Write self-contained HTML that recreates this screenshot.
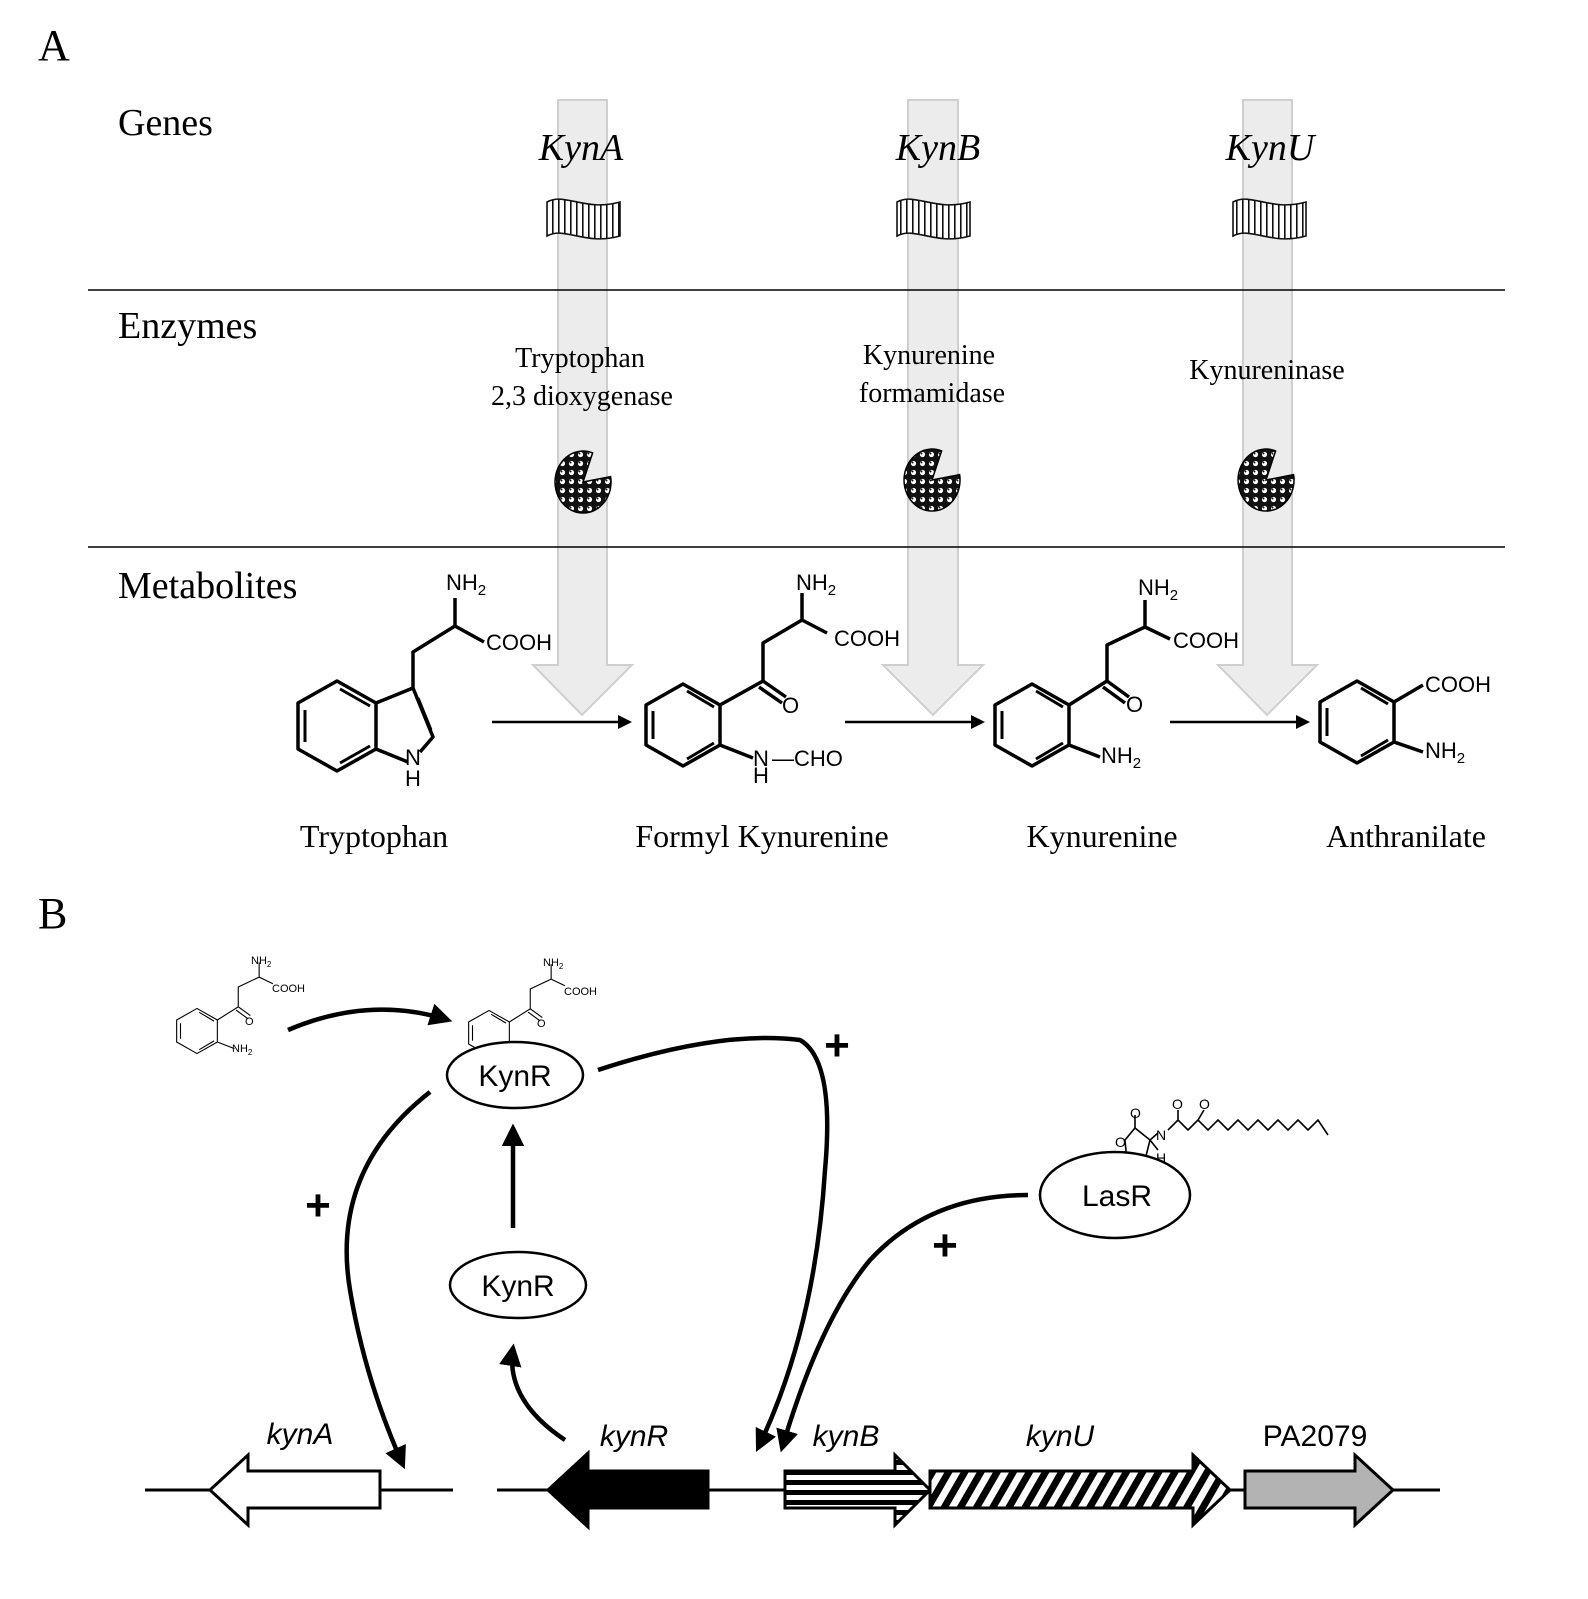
<!DOCTYPE html>
<html><head><meta charset="utf-8"><style>
html,body{margin:0;padding:0;background:#fff}
svg{display:block}
.s{font-family:"Liberation Serif",serif}
.a{font-family:"Liberation Sans",sans-serif}
</style></head><body>
<svg width="1588" height="1599" viewBox="0 0 1588 1599" xmlns="http://www.w3.org/2000/svg">
<defs>
<pattern id="dots" width="9" height="9" patternUnits="userSpaceOnUse">
<rect width="9" height="9" fill="#111"/><circle cx="4.5" cy="4.5" r="2.6" fill="#fff"/><circle cx="3.5" cy="3.5" r="1" fill="#111"/>
</pattern>
<pattern id="vstr" width="6" height="10" patternUnits="userSpaceOnUse"><rect width="6" height="10" fill="#fff"/><rect x="0" width="1.6" height="10" fill="#111"/></pattern>
<pattern id="hstr" width="10" height="10" patternUnits="userSpaceOnUse"><rect width="10" height="10" fill="#fff"/><rect y="0" width="10" height="5" fill="#000"/></pattern>
<pattern id="diag" width="14" height="14" patternUnits="userSpaceOnUse" patternTransform="rotate(30)"><rect width="14" height="14" fill="#fff"/><rect width="7" height="14" fill="#000"/></pattern>
<marker id="ah" markerWidth="5" markerHeight="5" refX="4" refY="2.5" orient="auto" markerUnits="strokeWidth"><path d="M0,0 L5,2.5 L0,5 Z" fill="#000"/></marker>
</defs>

<text x="38" y="60" class="s" font-size="44">A</text>
<text x="38" y="928" class="s" font-size="44">B</text>

<g fill="#ececec" stroke="#cfcfcf" stroke-width="2">
<path d="M558,100 H607 V665 H632 L582,715 L533,665 H558 Z"/>
<path d="M908,100 H958 V665 H983 L933,715 L883,665 H908 Z"/>
<path d="M1243,100 H1292 V665 H1317 L1267,715 L1218,665 H1243 Z"/>
</g>

<line x1="88" y1="290" x2="1505" y2="290" stroke="#000" stroke-width="1.5"/>
<line x1="88" y1="547" x2="1505" y2="547" stroke="#000" stroke-width="1.5"/>

<g class="s" font-size="38">
<text x="118" y="135">Genes</text>
<text x="118" y="338">Enzymes</text>
<text x="118" y="598">Metabolites</text>
</g>
<g class="s" font-size="38" font-style="italic" text-anchor="middle">
<text x="581" y="160">KynA</text>
<text x="938" y="160">KynB</text>
<text x="1270" y="160">KynU</text>
</g>

<g stroke="#111" stroke-width="1.6" fill="url(#vstr)">
<path d="M547,202 C565,192 585,212 620,202 V236 C585,246 565,226 547,236 Z"/>
<path d="M897,202 C915,192 935,212 970,202 V236 C935,246 915,226 897,236 Z"/>
<path d="M1233,202 C1251,192 1271,212 1306,202 V236 C1271,246 1251,226 1233,236 Z"/>
</g>

<g class="s" font-size="28" text-anchor="middle">
<text x="580" y="367">Tryptophan</text>
<text x="582" y="405">2,3 dioxygenase</text>
<text x="929" y="364">Kynurenine</text>
<text x="932" y="402">formamidase</text>
<text x="1267" y="379">Kynureninase</text>
</g>

<g fill="url(#dots)" stroke="#000" stroke-width="1.5">
<path d="M583,482 L592.6,452.9 A28,31 0 1 0 610.6,476.6 Z"/>
<path d="M932,480 L941.6,450.9 A28,31 0 1 0 959.6,474.6 Z"/>
<path d="M1266,480 L1275.6,450.9 A28,31 0 1 0 1293.6,474.6 Z"/>
</g>

<g stroke="#000" stroke-width="2.5">
<line x1="492" y1="722" x2="624" y2="722"/>
<line x1="845" y1="722" x2="977" y2="722"/>
<line x1="1170" y1="722" x2="1302" y2="722"/>
</g>
<g fill="#000">
<path d="M632,722 L618,715 L618,729 Z"/><path d="M985,722 L971,715 L971,729 Z"/><path d="M1310,722 L1296,715 L1296,729 Z"/>
</g>

<g stroke="#000" stroke-width="3.5" fill="none" stroke-linejoin="round">
<path d="M337,681 L376,703 L376,749 L337,771 L298,749 L298,703 Z"/>
<path d="M305,710 L305,742 M340,689 L370,706 M340,763 L370,746" stroke-width="3"/>
<path d="M376,703 L413,688 L433,737 L420,752 M408,762 L376,749"/>
<path d="M418,698 L431,730" stroke-width="3"/>
<path d="M413,688 L413,652 L455,626 L484,642 M455,626 L455,598"/>
</g>
<g class="a" font-size="22">
<text x="446" y="590">NH<tspan font-size="15" dy="5">2</tspan></text>
<text x="486" y="650">COOH</text>
<text x="405" y="765">N</text><text x="405" y="786">H</text>
</g>

<g stroke="#000" stroke-width="3.5" fill="none" stroke-linejoin="round">
<g transform="translate(683,725)">
<path d="M0,-41 L37,-20 L37,20 L0,41 L-37,20 L-37,-20 Z"/>
<path d="M-30,-14 L-30,14 M4,-34 L31,-18 M4,34 L31,18" stroke-width="3"/>
<path d="M37,-20 L80,-44 L103,-28 M76,-38 L99,-22 M80,-44 L80,-82 L119,-105 L144,-92 M119,-105 L119,-132 M37,20 L70,33"/>
</g>
<g transform="translate(1032,725)">
<path d="M0,-41 L37,-20 L37,20 L0,41 L-37,20 L-37,-20 Z"/>
<path d="M-30,-14 L-30,14 M4,-34 L31,-18 M4,34 L31,18" stroke-width="3"/>
<path d="M37,-20 L75,-44 L97,-28 M71,-38 L93,-22 M75,-44 L75,-80 L113,-98 L138,-86 M113,-98 L113,-125 M37,20 L68,32"/>
</g>
<g transform="translate(1357,722)">
<path d="M0,-41 L37,-20 L37,20 L0,41 L-37,20 L-37,-20 Z"/>
<path d="M-30,-14 L-30,14 M4,-34 L31,-18 M4,34 L31,18" stroke-width="3"/>
<path d="M37,-20 L66,-37 M37,20 L66,30"/>
</g>
</g>
<g class="a" font-size="22">
<text x="796" y="590">NH<tspan font-size="15" dy="5">2</tspan></text>
<text x="834" y="646">COOH</text>
<text x="782" y="713">O</text>
<text x="753" y="766">N</text><text x="753" y="783">H</text>
<text x="772" y="766">—CHO</text>
<text x="1138" y="595">NH<tspan font-size="15" dy="5">2</tspan></text>
<text x="1173" y="648">COOH</text>
<text x="1126" y="712">O</text>
<text x="1101" y="763">NH<tspan font-size="15" dy="5">2</tspan></text>
<text x="1425" y="692">COOH</text>
<text x="1425" y="758">NH<tspan font-size="15" dy="5">2</tspan></text>
</g>

<g class="s" font-size="32" text-anchor="middle">
<text x="374" y="847">Tryptophan</text>
<text x="762" y="847">Formyl Kynurenine</text>
<text x="1102" y="847">Kynurenine</text>
<text x="1406" y="847">Anthranilate</text>
</g>

<g stroke="#000" stroke-width="2" fill="none">
<g transform="translate(197,1031) scale(0.55)">
<path d="M0,-41 L37,-20 L37,20 L0,41 L-37,20 L-37,-20 Z"/>
<path d="M-30,-14 L-30,14 M4,-34 L31,-18 M4,34 L31,18"/>
<path d="M37,-20 L75,-44 L97,-28 M71,-38 L93,-22 M75,-44 L75,-80 L113,-98 L138,-86 M113,-98 L113,-125 M37,20 L68,32"/>
</g>
<g transform="translate(489,1033) scale(0.55)">
<path d="M0,-41 L37,-20 L37,20 L0,41 L-37,20 L-37,-20 Z"/>
<path d="M-30,-14 L-30,14 M4,-34 L31,-18 M4,34 L31,18"/>
<path d="M37,-20 L75,-44 L97,-28 M71,-38 L93,-22 M75,-44 L75,-80 L113,-98 L138,-86 M113,-98 L113,-125 M37,20 L68,32"/>
</g>
</g>
<g class="a" font-size="11">
<text x="251" y="964">NH<tspan font-size="8" dy="3">2</tspan></text>
<text x="272" y="992">COOH</text>
<text x="245" y="1025">O</text>
<text x="232" y="1052">NH<tspan font-size="8" dy="3">2</tspan></text>
<text x="543" y="966">NH<tspan font-size="8" dy="3">2</tspan></text>
<text x="564" y="995">COOH</text>
<text x="537" y="1027">O</text>
<text x="523" y="1054">NH<tspan font-size="8" dy="3">2</tspan></text>
</g>

<g stroke="#000" stroke-width="1.6" fill="none">
<path d="M1125,1140 L1135,1128 L1150,1140 L1145,1160 L1127,1162 Z"/>
<path d="M1135,1128 L1135,1115 M1150,1140 L1158,1133 M1168,1130 L1178,1120 L1188,1130 L1198,1120 L1208,1130 L1218,1120 L1228,1130 L1238,1120 L1248,1130 L1258,1120 L1268,1130 L1278,1120 L1288,1130 L1298,1120 L1308,1130 L1318,1120 L1328,1135 M1178,1120 L1178,1110 M1198,1120 L1204,1110 M1150,1140 L1158,1150"/>
</g>
<g class="a" font-size="14">
<text x="1130" y="1118">O</text><text x="1172" y="1109">O</text><text x="1199" y="1109">O</text>
<text x="1115" y="1147">O</text><text x="1156" y="1140">N</text><text x="1156" y="1163">H</text>
</g>

<g fill="#fff" stroke="#000" stroke-width="2.5">
<ellipse cx="515" cy="1075" rx="68" ry="33"/>
<ellipse cx="518" cy="1285" rx="68" ry="33"/>
<ellipse cx="1115" cy="1195" rx="75" ry="43"/>
</g>
<g class="a" font-size="30" text-anchor="middle">
<text x="515" y="1086">KynR</text>
<text x="518" y="1296">KynR</text>
<text x="1117" y="1206">LasR</text>
</g>

<g stroke="#000" stroke-width="4.5" fill="none" marker-end="url(#ah)">
<path d="M288,1030 Q370,995 448,1020"/>
<path d="M513,1228 L513,1128"/>
<path d="M565,1440 Q505,1400 513,1348"/>
<path d="M430,1092 Q330,1170 350,1290 Q365,1380 403,1465"/>
<path d="M598,1070 Q720,1030 800,1040 Q835,1060 825,1170 Q815,1330 758,1448"/>
<path d="M1028,1195 Q930,1195 870,1260 Q820,1320 782,1448"/>
</g>
<g class="a" font-size="44" font-weight="bold" text-anchor="middle">
<text x="837" y="1060">+</text>
<text x="318" y="1220">+</text>
<text x="945" y="1260">+</text>
</g>

<g stroke="#000" stroke-width="3">
<line x1="145" y1="1490" x2="453" y2="1490"/>
<line x1="497" y1="1490" x2="1440" y2="1490"/>
</g>
<g stroke="#000" stroke-width="3" stroke-linejoin="miter">
<path d="M380,1471 V1508 H248 V1525 L210,1490 L248,1455 V1471 Z" fill="#fff"/>
<path d="M708,1471 V1508 H588 V1527 L548,1490 L588,1453 V1471 Z" fill="#000"/>
<path d="M785,1471 V1508 H895 V1525 L930,1490 L895,1455 V1471 Z" fill="url(#hstr)"/>
<path d="M930,1471 V1508 H1193 V1525 L1230,1490 L1193,1455 V1471 Z" fill="url(#diag)"/>
<path d="M1245,1471 V1508 H1355 V1525 L1393,1490 L1355,1455 V1471 Z" fill="#b3b3b3"/>
</g>
<g class="a" font-size="30" font-style="italic" text-anchor="middle">
<text x="300" y="1444">kynA</text>
<text x="634" y="1446">kynR</text>
<text x="846" y="1446">kynB</text>
<text x="1060" y="1446">kynU</text>
</g>
<text x="1315" y="1446" class="a" font-size="30" text-anchor="middle">PA2079</text>
</svg>
</body></html>
